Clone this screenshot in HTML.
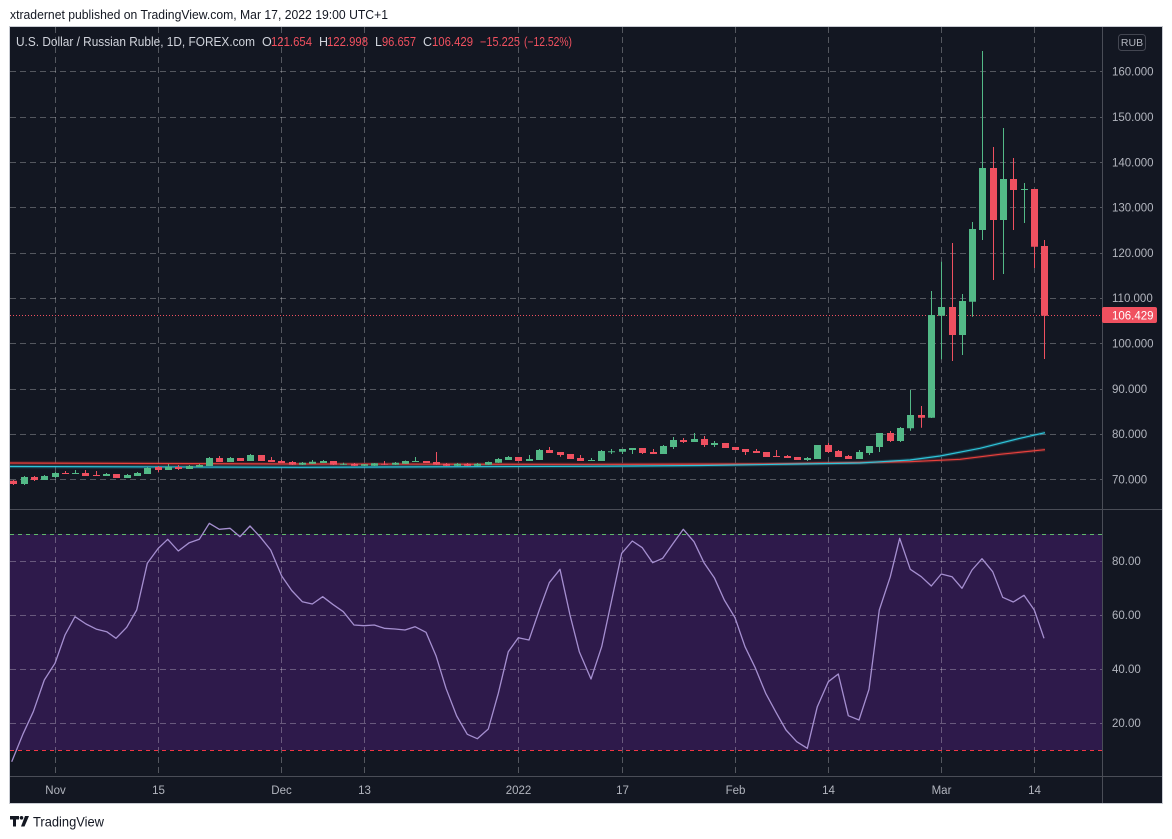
<!DOCTYPE html>
<html><head><meta charset="utf-8"><style>
html,body{margin:0;padding:0;background:#fff;}
svg{display:block;}
text{font-family:"Liberation Sans",sans-serif;}
</style></head><body>
<svg width="1172" height="839" viewBox="0 0 1172 839" xmlns="http://www.w3.org/2000/svg">
<defs>
<clipPath id="pc"><rect x="10" y="27" width="1092" height="482"/></clipPath>
<clipPath id="rc"><rect x="10" y="510" width="1092" height="266"/></clipPath>
</defs>
<rect width="1172" height="839" fill="#ffffff"/>
<text x="10" y="19" font-size="12.5" fill="#131722" textLength="378" lengthAdjust="spacingAndGlyphs">xtradernet published on TradingView.com, Mar 17, 2022 19:00 UTC+1</text>

<rect x="10" y="27" width="1152" height="776" fill="#131722"/>
<rect x="9.5" y="26.5" width="1153" height="777" fill="none" stroke="#c9ccd3" stroke-width="1"/>

<!-- RSI band -->
<rect x="10" y="534" width="1092" height="216" fill="#2e1a4b"/>

<!-- grid -->
<g stroke="rgba(255,255,255,0.28)" stroke-width="1" stroke-dasharray="6 4" fill="none">
<path d="M10 71.5H1102M10 117.5H1102M10 162.5H1102M10 207.5H1102M10 253.5H1102M10 298.5H1102M10 343.5H1102M10 389.5H1102M10 434.5H1102M10 479.5H1102"/>
<path d="M10 561.5H1102M10 615.5H1102M10 669.5H1102M10 723.5H1102"/>
<path d="M55.5 27V776M158.5 27V776M281.5 27V776M364.5 27V776M518.5 27V776M622.5 27V776M735.5 27V776M828.5 27V776M941.5 27V776M1034.5 27V776"/>
</g>
<path d="M10 534.5H1102" stroke="#5fb86a" stroke-width="1" stroke-dasharray="4 4"/>
<path d="M10 750.5H1102" stroke="#f23645" stroke-width="1" stroke-dasharray="4 4"/>

<!-- separators -->
<g stroke="#4a4d57" stroke-width="1">
<path d="M10 509.5H1162M10 776.5H1162M1102.5 27V803"/>
</g>

<!-- legend -->
<g font-size="12.5">
<text x="16" y="46" fill="#d1d4dc" textLength="239" lengthAdjust="spacingAndGlyphs">U.S. Dollar / Russian Ruble, 1D, FOREX.com</text>
<text x="262" y="46" fill="#d1d4dc">O</text>
<text x="271" y="46" fill="#f0505f" textLength="41" lengthAdjust="spacingAndGlyphs">121.654</text>
<text x="319" y="46" fill="#d1d4dc">H</text>
<text x="327" y="46" fill="#f0505f" textLength="41" lengthAdjust="spacingAndGlyphs">122.998</text>
<text x="375" y="46" fill="#d1d4dc">L</text>
<text x="382" y="46" fill="#f0505f" textLength="34" lengthAdjust="spacingAndGlyphs">96.657</text>
<text x="423" y="46" fill="#d1d4dc">C</text>
<text x="432" y="46" fill="#f0505f" textLength="41" lengthAdjust="spacingAndGlyphs">106.429</text>
<text x="480" y="46" fill="#f0505f" textLength="40" lengthAdjust="spacingAndGlyphs">−15.225</text>
<text x="524" y="46" fill="#f0505f" textLength="48" lengthAdjust="spacingAndGlyphs">(−12.52%)</text>
</g>

<!-- moving averages -->
<g clip-path="url(#pc)" fill="none" stroke-linejoin="round">
<polyline points="10,463 300,464 590,464.3 760,464 860,462.5 910,461.7 960,459.3 1000,454.3 1045,449.7" stroke="rgba(232,65,61,0.22)" stroke-width="3.5"/>
<polyline points="10,466.5 300,467.3 590,466.3 700,465.5 800,464 860,463 910,460 940,456 980,448.3 1020,438.3 1045,432.7" stroke="rgba(46,196,217,0.22)" stroke-width="3.5"/>
<polyline points="10,463 300,464 590,464.3 760,464 860,462.5 910,461.7 960,459.3 1000,454.3 1045,449.7" stroke="#e8413d" stroke-width="1.2"/>
<polyline points="10,466.5 300,467.3 590,466.3 700,465.5 800,464 860,463 910,460 940,456 980,448.3 1020,438.3 1045,432.7" stroke="#2ec4d9" stroke-width="1.2"/>
</g>

<!-- price line -->
<path d="M10 315.5H1102" stroke="#ef5060" stroke-width="1" stroke-dasharray="1 2"/>

<!-- candles -->
<g clip-path="url(#pc)">
<path fill="none" stroke="#53b987" stroke-width="1" d="M24.5 476V485M44.5 475V480M55.5 472V478M75.5 470V474M106.5 473V476M127.5 474V478M137.5 472V476M147.5 467V474M168.5 464V470M189.5 465V469M199.5 464V467M209.5 457V466M230.5 457V462M250.5 454V461M302.5 462V465M312.5 460V464M323.5 460V463M343.5 462.7V465M364.5 464V466M374.5 463V466M395.5 462V465M405.5 460.5V464M415.5 457V462M457.5 463V466M477.5 463V466M488.5 461.5V465M498.5 458V463M508.5 456V460M529.5 455V461M539.5 449V460M591.5 458V461M601.5 450V461M611.5 449V454M622.5 449V454M632.5 448V454M663.5 445V454M673.5 437V449M694.5 433V442M714.5 441V447M807.5 457V461M817.5 445V459M859.5 450V459M869.5 446V455M879.5 433V452M900.5 427V442M910.5 390V430.7M931.5 291V418M941.5 261.7V359.3M962.5 294V355M972.5 222V316.7M982.5 51V240M1003.5 128V274M1024.5 183V223"/>
<path fill="#53b987" d="M21 477h7v7h-7zM41 476h7v4h-7zM52 473h7v4h-7zM72 473h7v1h-7zM103 474h7v2h-7zM124 475h7v3h-7zM134 473h7v3h-7zM144 468h7v6h-7zM165 467h7v3h-7zM186 466h7v3h-7zM196 465h7v2h-7zM206 458h7v8h-7zM227 458h7v4h-7zM247 455h7v6h-7zM299 462.7h7v2h-7zM309 461.7h7v2h-7zM320 461h7v2h-7zM340 463.7h7v1h-7zM361 464.3h7v1.4h-7zM371 463.3h7v2.4h-7zM392 462.7h7v2h-7zM402 461h7v2.7h-7zM412 461h7v1h-7zM454 463.7h7v2h-7zM474 463.7h7v2h-7zM485 462h7v2.7h-7zM495 459h7v3.7h-7zM505 457h7v3h-7zM526 459h7v2h-7zM536 450h7v10h-7zM588 460h7v1h-7zM598 451h7v10h-7zM608 451.3h7v1h-7zM619 449h7v2.7h-7zM629 448h7v2h-7zM660 446h7v8h-7zM670 440h7v7h-7zM691 439h7v3h-7zM711 443h7v2h-7zM804 458h7v2h-7zM814 445h7v14h-7zM856 452h7v7h-7zM866 446h7v7h-7zM876 433h7v14h-7zM897 428h7v13h-7zM907 415h7v13.3h-7zM928 315h7v102.7h-7zM938 307h7v8.7h-7zM959 301h7v34h-7zM969 229h7v72.7h-7zM979 168h7v62h-7zM1000 179h7v41h-7zM1021 189h7v1h-7z"/>
<path fill="none" stroke="#ef5060" stroke-width="1" d="M13.5 480V485M34.5 476V481M65.5 471V474M85.5 470V476M96.5 471V476M116.5 474V478M158.5 466V472M178.5 465V470M219.5 456V462M240.5 458V461M261.5 455V461M271.5 457V462M281.5 460V463M292.5 461V465M333.5 461V465M354.5 463V466M384.5 461V465M426.5 461V463M436.5 452V465M446.5 463V466M467.5 463V466M518.5 457V461M549.5 447V453M560.5 452V456.7M570.5 454V459M580.5 455V461M642.5 448V454M653.5 449V454M683.5 438V443M704.5 436V447M725.5 443V448M735.5 447V450M745.5 449V455M756.5 449V453M766.5 452V457M776.5 450V457M787.5 455V458M797.5 457V460M828.5 443V453M838.5 450V457M848.5 455V459M890.5 431V442M921.5 406V427.7M952.5 243V361M993.5 147V280M1013.5 158V230M1034.5 189V268M1044.5 240V359"/>
<path fill="#ef5060" d="M10 480.7h7v3.3h-7zM31 477h7v3h-7zM62 473h7v1h-7zM82 473h7v3h-7zM93 475h7v1h-7zM113 474h7v4h-7zM155 467h7v3h-7zM175 467h7v2h-7zM216 458h7v4h-7zM237 458h7v3h-7zM258 455h7v6h-7zM268 460h7v2h-7zM278 461h7v2h-7zM289 462h7v2.7h-7zM330 461h7v3.7h-7zM351 463.7h7v2h-7zM381 463.7h7v1h-7zM423 461h7v2h-7zM433 462h7v2.7h-7zM443 463.7h7v2h-7zM464 463.7h7v2h-7zM515 457h7v4h-7zM546 450h7v3h-7zM557 452h7v3h-7zM567 454h7v5h-7zM577 458h7v3h-7zM639 448h7v5h-7zM650 452h7v2h-7zM680 440h7v2h-7zM701 439h7v6h-7zM722 443h7v5h-7zM732 447h7v3h-7zM742 449h7v3h-7zM753 451h7v2h-7zM763 452h7v5h-7zM773 456h7v1h-7zM784 456h7v2h-7zM794 457h7v3h-7zM825 445h7v7h-7zM835 451h7v6h-7zM845 456h7v3h-7zM887 433h7v8h-7zM918 415h7v2.7h-7zM949 307h7v28h-7zM990 168h7v52h-7zM1010 179h7v11h-7zM1031 189h7v57.7h-7zM1041 246h7v69.7h-7z"/>
</g>

<!-- RSI line -->
<g clip-path="url(#rc)">
<polyline fill="none" stroke="#a58fd0" stroke-width="1.3" stroke-linejoin="round" points="11.7,761.7 23.3,733.3 33.3,711.7 44.3,680 55,663.3 65,635 75,616.7 86,624 96.7,629.3 106.7,631.7 116,638.3 126.7,627.3 136.7,610 147.3,563.3 158.3,548.3 167.7,539.3 178.3,551 189.3,542.7 199.3,539.3 209.3,523.3 219.3,529.3 230,528.3 240,536.7 250,526 260,536.7 270.7,550 281.7,576 291.7,590.5 302.3,601.7 312.3,604 322.7,596.7 332.7,604.3 343.3,611.7 354,625 364,625.7 374.3,625 384.3,628.3 395,629 405,630 415,626.7 426,632.3 436,655.7 446,688.3 456.7,716 467.3,734.3 477.3,738.7 488.3,729 498.3,693.3 508.3,651.7 518.3,637.7 529,640 539.3,610 549.3,582.7 560,569.3 570,615 579.3,651.7 591,679 601.7,646.7 611.7,600 621.7,553.3 632.3,541 642.3,547.7 652.7,562.7 662.7,558.3 672.7,544 683.3,529.3 694,541.7 704,562.7 714.3,577.7 724.3,600 735,617.7 745,646.7 755,667.3 765.7,693.3 776,712.3 786,730 796.7,741.7 807.3,748.3 817.3,706.7 828.3,681.7 838.3,674 848.3,715.7 859,720 869,689.3 879.3,610 890.3,576.7 899.7,538.3 910.3,569.3 921.3,576.7 931.3,586 941.3,574 952,576.7 962,588.3 972,570 982,558.7 992.7,571.7 1002.7,597.3 1013.3,602 1024,595.3 1034.3,610 1044,638.3"/>
</g>

<!-- price axis -->
<rect x="1118.5" y="34.5" width="27" height="16" rx="3" fill="#131722" stroke="#434651"/>
<text x="1132" y="46" font-size="10.5" fill="#b2b5be" text-anchor="middle">RUB</text>
<g font-size="11.5" fill="#b2b5be">
<text x="1112" y="75.5">160.000</text>
<text x="1112" y="121">150.000</text>
<text x="1112" y="166.5">140.000</text>
<text x="1112" y="211.5">130.000</text>
<text x="1112" y="257">120.000</text>
<text x="1112" y="302">110.000</text>
<text x="1112" y="347.5">100.000</text>
<text x="1112" y="393">90.000</text>
<text x="1112" y="438">80.000</text>
<text x="1112" y="483.5">70.000</text>
<text x="1112" y="565">80.00</text>
<text x="1112" y="619">60.00</text>
<text x="1112" y="673">40.00</text>
<text x="1112" y="727">20.00</text>
</g>
<rect x="1102" y="307" width="55" height="16" rx="2" fill="#f0505f"/>
<text x="1112" y="319.5" font-size="11.5" fill="#ffffff">106.429</text>

<!-- time axis -->
<g font-size="11.5" fill="#b2b5be" text-anchor="middle">
<text x="55.5" y="794">Nov</text>
<text x="158.5" y="794">15</text>
<text x="281.5" y="794">Dec</text>
<text x="364.5" y="794">13</text>
<text x="518.5" y="794">2022</text>
<text x="622.5" y="794">17</text>
<text x="735.5" y="794">Feb</text>
<text x="828.5" y="794">14</text>
<text x="941.5" y="794">Mar</text>
<text x="1034.5" y="794">14</text>
</g>

<!-- logo -->
<g fill="#131722">
<path d="M10 816h9v3.5h-3v7h-3v-7h-3z"/>
<circle cx="21.5" cy="817.8" r="1.8"/>
<path d="M25 816h4l-4.5 10.5h-3.5z"/>
</g>
<text x="33" y="826.5" font-size="14" fill="#131722" textLength="71" lengthAdjust="spacingAndGlyphs">TradingView</text>
</svg>
</body></html>
